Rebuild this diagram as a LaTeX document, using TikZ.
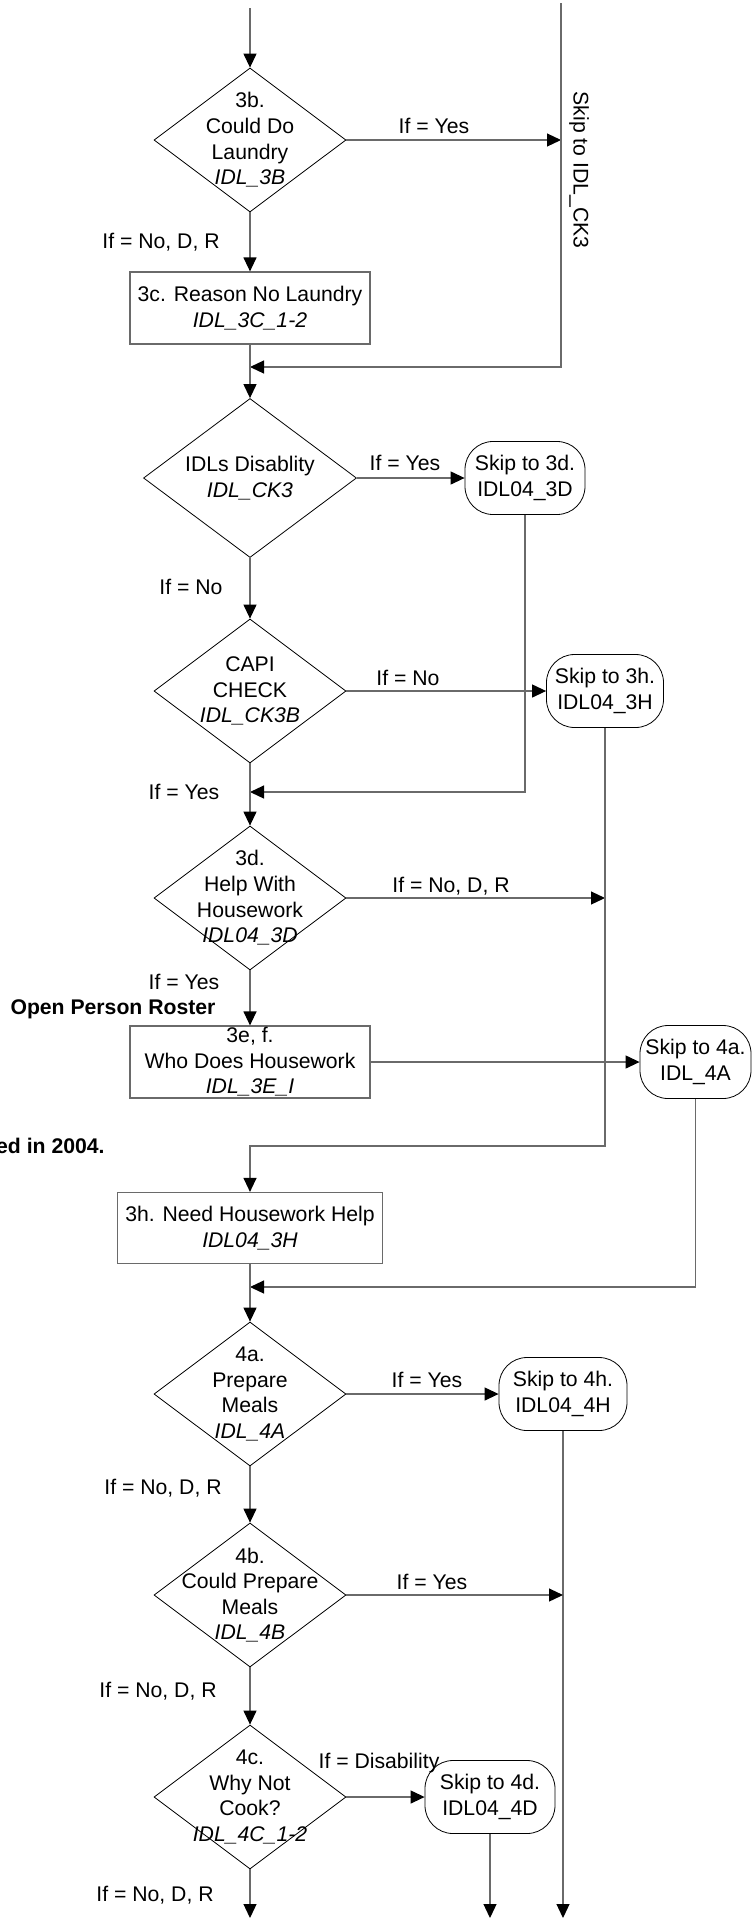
\documentclass[tikz,border=0pt]{standalone}
\usepackage{fontspec}
\setmainfont{Liberation Sans}
\usetikzlibrary{shapes.geometric,arrows.meta}
\definecolor{linegray}{HTML}{6A6A6A}
\begin{document}
\begin{tikzpicture}[
  x=0.5pt, y=-0.5pt,
  every node/.style={font=\fontsize{10.6}{12.8}\selectfont, inner sep=0pt},
  dec/.style={draw, diamond, minimum width=96pt, minimum height=72pt},
  qtext/.style={align=center},
  proc/.style={draw=linegray, line width=0.6pt, rectangle, minimum width=120pt, minimum height=36pt, align=center},
  skipto/.style={draw, rounded corners=14pt, minimum height=36.5pt, align=center},
  lbl/.style={draw=none},
  flow/.style={draw=linegray, line width=0.6pt, -{Triangle[length=7pt,width=6.5pt,color=black]}}
]
\useasboundingbox (0,0) rectangle (752,1923);

% questions
\node[dec, label={[qtext]center:{3b.\\Could Do\\Laundry\\\textit{IDL\_3B}}}] (q3b) at (250,140) {};
\node[proc] (b3c) at (250,308) {3c. Reason No Laundry\\\textit{IDL\_3C\_1-2}};
\node[dec, minimum width=106.5pt, minimum height=79.5pt,
  label={[qtext]center:{IDLs Disablity\\\textit{IDL\_CK3}}}] (ck3) at (250,478) {};
\node[dec, label={[qtext]center:{CAPI\\CHECK\\\textit{IDL\_CK3B}}}] (ck3b) at (250,691) {};
\node[dec, label={[qtext]center:{3d.\\Help With\\Housework\\\textit{IDL04\_3D}}}] (q3d) at (250,898) {};
\node[proc] (b3e) at (250,1062) {3e, f.\\Who Does Housework\\\textit{IDL\_3E\_I}};
\node[proc, minimum width=132.5pt, minimum height=35.5pt] (b3h) at (250,1228) {3h. Need Housework Help\\\textit{IDL04\_3H}};
\node[dec, label={[qtext]center:{4a.\\Prepare\\Meals\\\textit{IDL\_4A}}}] (q4a) at (250,1394) {};
\node[dec, label={[qtext]center:{4b.\\Could Prepare\\Meals\\\textit{IDL\_4B}}}] (q4b) at (250,1595) {};
\node[dec, label={[qtext]center:{4c.\\Why Not\\Cook?\\\textit{IDL\_4C\_1-2}}}] (q4c) at (250,1797) {};

% skips
\node[skipto, minimum width=60pt] (s3d) at (525,478) {Skip to 3d.\\IDL04\_3D};
\node[skipto, minimum width=58.5pt] (s3h) at (605,691) {Skip to 3h.\\IDL04\_3H};
\node[skipto, minimum width=55.5pt] (s4a) at (695.5,1062) {Skip to 4a.\\IDL\_4A};
\node[skipto, minimum width=64pt] (s4h) at (563,1394) {Skip to 4h.\\IDL04\_4H};
\node[skipto, minimum width=65pt] (s4d) at (490,1797) {Skip to 4d.\\IDL04\_4D};

% free ends
\coordinate (top) at (250,8);
\coordinate (rtop) at (561,3);
\coordinate (m1) at (250,367);
\coordinate (m2) at (250,792);
\coordinate (j1) at (250,1146);
\coordinate (m3) at (250,1287);
\coordinate (e0) at (250,1918);
\coordinate (e1) at (490,1918);
\coordinate (e2) at (563,1918);

% connectors
\draw[flow] (top) -- (q3b.north);
\draw[flow] (q3b.east) -- (q3b.east -| rtop);
\draw[flow] (rtop) |- (m1);
\draw[flow] (q3b.south) -- (b3c.north);
\draw[flow] (b3c.south) -- (ck3.north);
\draw[flow] (ck3.east) -- (s3d.west);
\draw[flow] (ck3.south) -- (ck3b.north);
\draw[flow] (ck3b.east) -- (s3h.west);
\draw[flow] (s3d.south) |- (m2);
\draw[flow] (ck3b.south) -- (q3d.north);
\draw[flow] (q3d.east) -- (q3d.east -| s3h.south);
\draw[flow] (s3h.south) |- (j1) -- (b3h.north);
\draw[flow] (q3d.south) -- (b3e.north);
\draw[flow] (b3e.east) -- (s4a.west);
\draw[flow] (s4a.south) |- (m3);
\draw[flow] (b3h.south) -- (q4a.north);
\draw[flow] (q4a.east) -- (s4h.west);
\draw[flow] (q4a.south) -- (q4b.north);
\draw[flow] (s4h.south) -- (e2);
\draw[flow] (q4b.east) -- (q4b.east -| s4h.south);
\draw[flow] (q4b.south) -- (q4c.north);
\draw[flow] (q4c.east) -- (s4d.west);
\draw[flow] (s4d.south) -- (e1);
\draw[flow] (q4c.south) -- (e0);

% labels
\node[lbl, rotate=-90] (skipck3) at (579,170) {Skip to IDL\_CK3};
\node[lbl] (l3by) at (434,126) {If = Yes};
\node[lbl] (l3bn) at (161,242) {If = No, D, R};
\node[lbl] (lck3y) at (405,463) {If = Yes};
\node[lbl] (lck3n) at (191,587) {If = No};
\node[lbl] (lck3bn) at (408,678) {If = No};
\node[lbl] (lck3by) at (184,792) {If = Yes};
\node[lbl] (l3dn) at (451,886) {If = No, D, R};
\node[lbl] (l3dy) at (184,982) {If = Yes};
\node[lbl, font=\fontsize{10.6}{12.8}\selectfont\bfseries] (roster) at (113,1009) {Open Person Roster};
\node[lbl, anchor=east, font=\fontsize{10.6}{12.8}\selectfont\bfseries] (note04) at (105,1146) {ed in 2004.};
\node[lbl] (l4ay) at (427,1380) {If = Yes};
\node[lbl] (l4an) at (163,1488) {If = No, D, R};
\node[lbl] (l4by) at (432,1582) {If = Yes};
\node[lbl] (l4bn) at (158,1691) {If = No, D, R};
\node[lbl] (l4cd) at (379,1763) {If = Disability};
\node[lbl] (l4cn) at (155,1895) {If = No, D, R};
\end{tikzpicture}
\end{document}
